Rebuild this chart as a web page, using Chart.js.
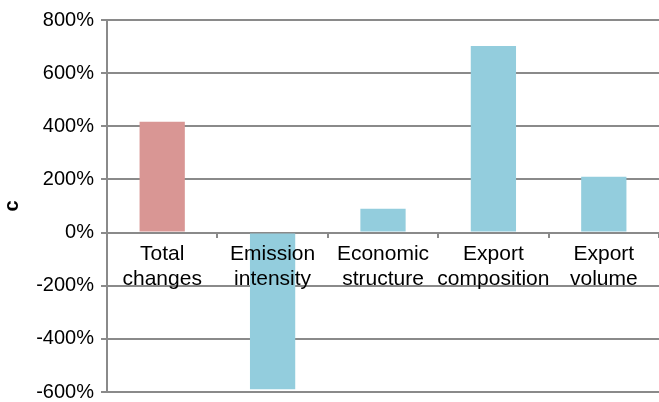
<!DOCTYPE html>
<html>
<head>
<meta charset="utf-8">
<script src="https://cdn.jsdelivr.net/npm/chart.js@4/dist/chart.umd.min.js"></script>
<style>
    html, body { margin: 0; padding: 0; background: #fff; }
    #wrap { width: 659px; height: 402px; position: relative; }
</style>
</head>
<body>
<div id="wrap"><canvas id="chart"></canvas></div>
<script>
// Chart data
const categories = [['Total', 'changes'], ['Emission', 'intensity'], ['Economic', 'structure'], ['Export', 'composition'], ['Export', 'volume']];
const values = [417, -590, 90, 702, 210];
const barColors = ['#d99694', '#93cddd', '#93cddd', '#93cddd', '#93cddd'];
const yMin = -600;
const yMax = 800;
const yStep = 200;
const yTitle = 'c';

const gridColor = '#8a8a8a';
const fontFamily = '"Liberation Sans", Arial, sans-serif';

const ctx = document.getElementById('chart').getContext('2d');
new Chart(ctx, {
    type: 'bar',
    data: {
        labels: categories,
        datasets: [{
            data: values,
            backgroundColor: barColors,
            borderWidth: 0,
            barPercentage: 0.41,
            categoryPercentage: 1
        }]
    },
    options: {
        responsive: true,
        maintainAspectRatio: false,
        animation: false,
        layout: { padding: { top: 20, bottom: 0, left: 0, right: 0 } },
        plugins: { legend: { display: false }, tooltip: { enabled: false } },
        scales: {
            x: {
                position: { y: 0 },
                offset: true,
                grid: { drawOnChartArea: false, drawTicks: true, tickLength: 4, color: gridColor, lineWidth: 2, offset: true },
                border: { display: true, color: gridColor, width: 2 },
                ticks: {
                    z: 1, // labels sit on top of the bars
                    color: '#000',
                    padding: 5,
                    maxRotation: 0,
                    autoSkip: false,
                    font: { family: fontFamily, size: 21, lineHeight: 1.2 }
                }
            },
            y: {
                min: yMin,
                max: yMax,
                grid: { color: gridColor, lineWidth: 2, tickLength: 6 },
                border: { display: true, color: gridColor, width: 2 },
                ticks: {
                    stepSize: yStep,
                    color: '#000',
                    padding: 7,
                    font: { family: fontFamily, size: 20, lineHeight: 1 },
                    callback: v => v + '%'
                },
                title: {
                    display: true,
                    text: yTitle,
                    color: '#000',
                    padding: 0,
                    font: { family: fontFamily, size: 20, weight: 'bold' }
                },
                afterFit: scale => {
                    scale.width = 107;
                    // only half a label of room at top and bottom
                    scale.paddingTop = 10;
                    scale.paddingBottom = 10;
                }
            }
        }
    }
});
</script>
</body>
</html>
